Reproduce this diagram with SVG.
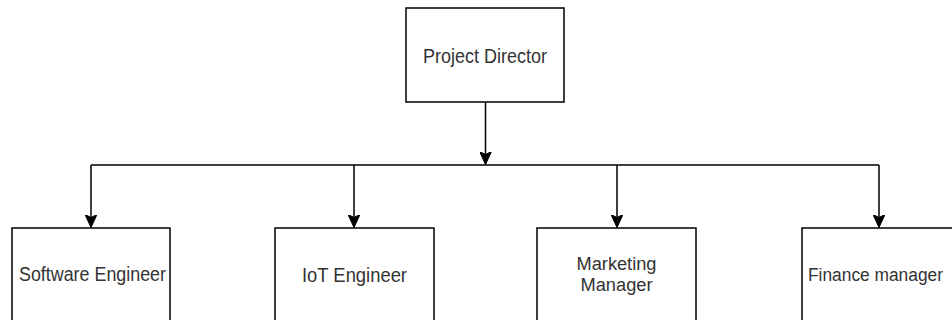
<svg xmlns="http://www.w3.org/2000/svg" width="952" height="320" viewBox="0 0 952 320">
<style>
.box{fill:#ffffff;stroke:#000000;stroke-width:1.5}
.lbl{font-family:"Liberation Sans",Arial,Helvetica,sans-serif;font-size:20px;fill:#333333;text-anchor:middle}
.sm{font-size:18px}
.edge{fill:none;stroke:#000000;stroke-width:1.5}
</style>
<defs>
<marker id="arr" markerUnits="userSpaceOnUse" markerWidth="14" markerHeight="12" viewBox="0 0 14 12" refX="13" refY="6" orient="auto">
<path d="M0,0 L13,6 L0,12 L3,6 Z" fill="#000000" stroke="#000000" stroke-width="1"/>
</marker>
</defs>
<rect width="952" height="320" fill="#ffffff"/>
<g id="connectors">
<path class="edge" d="M485.5,102 V164.5" marker-end="url(#arr)"/>
<path class="edge" d="M91,165 H879"/>
<path class="edge" d="M91,165 V227.5" marker-end="url(#arr)"/>
<path class="edge" d="M354,165 V227.5" marker-end="url(#arr)"/>
<path class="edge" d="M617,165 V227.5" marker-end="url(#arr)"/>
<path class="edge" d="M879,165 V227.5" marker-end="url(#arr)"/>
</g>
<g id="project-director">
<rect class="box" x="406" y="8" width="158" height="94"/>
<text class="lbl" x="485" y="62.5" textLength="124" lengthAdjust="spacingAndGlyphs">Project Director</text>
</g>
<g id="software-engineer">
<rect class="box" x="12" y="228" width="158" height="110"/>
<text class="lbl" x="92.5" y="281" textLength="147" lengthAdjust="spacingAndGlyphs">Software Engineer</text>
</g>
<g id="iot-engineer">
<rect class="box" x="275" y="228" width="159" height="110"/>
<text class="lbl" x="354.5" y="282" textLength="105" lengthAdjust="spacingAndGlyphs">IoT Engineer</text>
</g>
<g id="marketing-manager">
<rect class="box" x="537" y="228" width="159" height="110"/>
<text class="lbl sm" x="616.5" y="270" textLength="80" lengthAdjust="spacingAndGlyphs">Marketing</text>
<text class="lbl sm" x="616.5" y="290.5" textLength="72" lengthAdjust="spacingAndGlyphs">Manager</text>
</g>
<g id="finance-manager">
<rect class="box" x="802" y="228" width="158" height="110"/>
<text class="lbl sm" x="875.5" y="281" textLength="135" lengthAdjust="spacingAndGlyphs">Finance manager</text>
</g>
</svg>
